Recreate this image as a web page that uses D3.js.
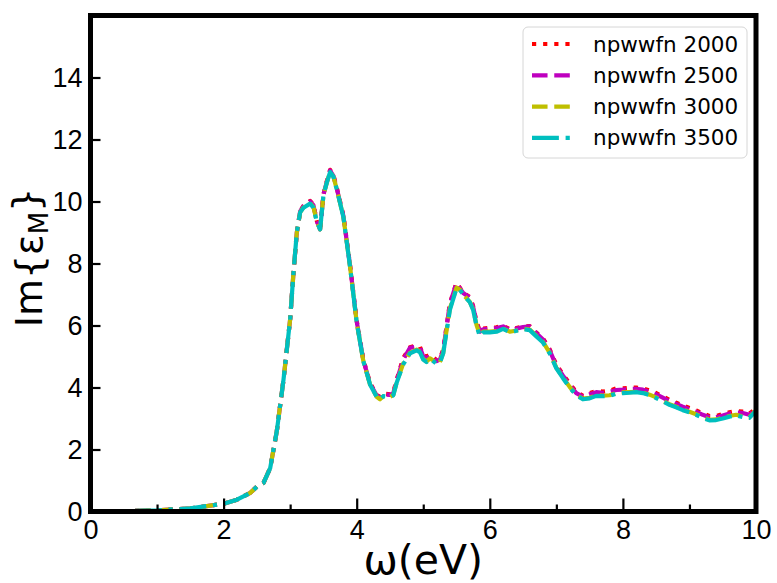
<!DOCTYPE html>
<html>
<head>
<meta charset="utf-8">
<script src="https://cdn.jsdelivr.net/npm/d3@7"></script>
<style>
  body { margin: 0; background: #fff; }
  svg { display: block; font-family: "DejaVu Sans", sans-serif; }
</style>
</head>
<body>
<svg id="chart" width="777" height="583"></svg>
<script>
// ---------------- DATA ----------------
const energy = [0, 0.5, 1.0, 1.5, 2.0, 2.2, 2.4, 2.5, 2.6, 2.7,
  2.8, 2.9, 3.0, 3.05, 3.1, 3.15, 3.2, 3.3, 3.35, 3.4,
  3.45, 3.5, 3.55, 3.6, 3.65, 3.7, 3.8, 3.9, 4.0, 4.1,
  4.2, 4.3, 4.35, 4.4, 4.5, 4.55, 4.6, 4.7, 4.8, 4.9,
  4.95, 5.0, 5.05, 5.1, 5.15, 5.2, 5.25, 5.3, 5.4, 5.5,
  5.55, 5.6, 5.7, 5.75, 5.8, 5.85, 5.9, 6.0, 6.1, 6.2,
  6.3, 6.4, 6.5, 6.6, 6.7, 6.8, 6.9, 7.0, 7.1, 7.2,
  7.3, 7.4, 7.5, 7.6, 7.7, 7.8, 7.9, 8.0, 8.1, 8.2,
  8.3, 8.4, 8.5, 8.6, 8.7, 8.8, 8.9, 9.0, 9.1, 9.2,
  9.3, 9.4, 9.5, 9.6, 9.7, 9.8, 9.9, 10.0];

const np2000 = [0.0, 0.01, 0.04, 0.10, 0.25, 0.38, 0.60, 0.80, 0.92, 1.40,
  2.60, 4.25, 6.20, 7.70, 9.00, 9.68, 9.86, 10.02, 9.90, 9.38,
  9.12, 10.22, 10.65, 11.02, 10.85, 10.45, 9.55, 7.95, 6.15, 4.90,
  4.15, 3.76, 3.70, 3.80, 3.78, 3.84, 4.25, 4.95, 5.30, 5.35,
  5.32, 5.02, 5.00, 5.06, 4.98, 4.88, 4.93, 5.22, 6.72, 7.38,
  7.22, 7.06, 6.92, 6.62, 6.12, 5.82, 5.90, 5.92, 5.94, 5.99,
  5.88, 5.92, 5.97, 5.98, 5.77, 5.58, 5.23, 4.73, 4.42, 4.12,
  3.86, 3.73, 3.82, 3.89, 3.87, 3.90, 3.97, 3.97, 3.99, 4.00,
  3.97, 3.90, 3.82, 3.71, 3.60, 3.51, 3.42, 3.34, 3.26, 3.16,
  3.08, 3.08, 3.14, 3.20, 3.24, 3.22, 3.16, 3.32];

const np2500 = [0.0, 0.01, 0.04, 0.10, 0.25, 0.38, 0.60, 0.80, 0.92, 1.40,
  2.60, 4.25, 6.20, 7.70, 9.00, 9.68, 9.85, 10.00, 9.88, 9.37,
  9.10, 10.22, 10.63, 11.00, 10.83, 10.43, 9.53, 7.93, 6.13, 4.88,
  4.13, 3.74, 3.68, 3.78, 3.76, 3.82, 4.22, 4.90, 5.28, 5.32,
  5.30, 5.00, 4.95, 5.02, 4.95, 4.85, 4.90, 5.20, 6.70, 7.37,
  7.20, 7.05, 6.90, 6.60, 6.10, 5.80, 5.88, 5.90, 5.92, 5.97,
  5.85, 5.90, 5.95, 5.97, 5.75, 5.55, 5.20, 4.70, 4.38, 4.08,
  3.82, 3.70, 3.78, 3.85, 3.83, 3.86, 3.92, 3.93, 3.95, 3.96,
  3.93, 3.86, 3.78, 3.67, 3.56, 3.47, 3.38, 3.30, 3.22, 3.12,
  3.04, 3.04, 3.10, 3.16, 3.20, 3.18, 3.12, 3.30];

const np3000 = [0.0, 0.01, 0.04, 0.10, 0.25, 0.38, 0.60, 0.80, 0.92, 1.40,
  2.60, 4.25, 6.20, 7.70, 9.00, 9.65, 9.81, 9.95, 9.82, 9.35,
  9.10, 10.20, 10.60, 10.96, 10.80, 10.40, 9.50, 7.90, 6.10, 4.85,
  4.10, 3.70, 3.62, 3.72, 3.70, 3.76, 4.16, 4.78, 5.12, 5.22,
  5.16, 4.92, 4.84, 4.94, 4.87, 4.78, 4.82, 5.12, 6.55, 7.22,
  7.16, 7.00, 6.76, 6.52, 6.02, 5.70, 5.80, 5.80, 5.82, 5.90,
  5.80, 5.84, 5.90, 5.87, 5.67, 5.47, 5.12, 4.64, 4.32, 4.02,
  3.76, 3.64, 3.67, 3.75, 3.74, 3.75, 3.82, 3.84, 3.85, 3.86,
  3.84, 3.77, 3.68, 3.57, 3.46, 3.38, 3.29, 3.22, 3.14, 3.04,
  2.96, 2.97, 3.02, 3.08, 3.12, 3.07, 3.04, 3.26];

const np3500 = [0.0, 0.01, 0.04, 0.10, 0.25, 0.38, 0.60, 0.80, 0.92, 1.40,
  2.60, 4.25, 6.20, 7.70, 9.00, 9.65, 9.80, 9.93, 9.80, 9.35,
  9.10, 10.20, 10.60, 10.95, 10.80, 10.40, 9.50, 7.90, 6.10, 4.85,
  4.10, 3.70, 3.62, 3.72, 3.70, 3.75, 4.15, 4.75, 5.10, 5.20,
  5.14, 4.90, 4.82, 4.92, 4.85, 4.76, 4.80, 5.10, 6.50, 7.20,
  7.15, 7.00, 6.75, 6.50, 6.00, 5.65, 5.78, 5.78, 5.80, 5.89,
  5.78, 5.83, 5.88, 5.85, 5.65, 5.45, 5.10, 4.62, 4.30, 4.00,
  3.75, 3.62, 3.65, 3.73, 3.72, 3.73, 3.80, 3.82, 3.83, 3.85,
  3.82, 3.75, 3.66, 3.55, 3.44, 3.36, 3.27, 3.20, 3.12, 3.02,
  2.94, 2.95, 3.00, 3.06, 3.10, 3.05, 3.02, 3.25];

const seriesNames = ["npwwfn 2000", "npwwfn 2500", "npwwfn 3000", "npwwfn 3500"];
const seriesValues = [np2000, np2500, np3000, np3500];
const xTicks = [0, 2, 4, 6, 8, 10];
const xMinorTicks = [1, 3, 5, 7, 9];
const yTicks = [0, 2, 4, 6, 8, 10, 12, 14];

// ---------------- STYLE ----------------
const colors = ["#ff0000", "#bf00bf", "#bfbf00", "#00bfbf"];
const lw = 4.2;
const dashes = [
  [lw * 1, lw * 1.65].join(","),
  [lw * 3.7, lw * 1.6].join(","),
  [lw * 3.7, lw * 1.6].join(","),
  [lw * 6.4, lw * 1.6, lw * 1, lw * 1.6].join(",")
];

const svg = d3.select("#chart");
const pL = 90.5, pR = 756, pT = 15.5, pB = 511.5;

const x = d3.scaleLinear().domain([0, 10]).range([pL, pR]);
const y = d3.scaleLinear().domain([0, 16]).range([pB, pT]);

svg.append("defs").append("clipPath").attr("id", "clip")
  .append("rect").attr("x", pL).attr("y", pT)
  .attr("width", pR - pL).attr("height", pB - pT);

// curves
const line = d3.line().x((d, i) => x(energy[i])).y(d => y(d));
const gLines = svg.append("g").attr("clip-path", "url(#clip)");
seriesValues.forEach((vals, k) => {
  gLines.append("path")
    .datum(vals)
    .attr("d", line)
    .attr("fill", "none")
    .attr("stroke", colors[k])
    .attr("stroke-width", lw)
    .attr("stroke-dasharray", dashes[k])
    .attr("stroke-linejoin", "round")
    .attr("stroke-linecap", "butt");
});

// axes
const fs = 27;
const xAxis = d3.axisBottom(x).tickValues(xTicks).tickSize(-13).tickPadding(8)
  .tickFormat(d3.format("d"));
const gx = svg.append("g").attr("transform", `translate(0,${pB})`).call(xAxis);
const xMinor = d3.axisBottom(x).tickValues(xMinorTicks).tickSize(-7).tickFormat("");
const gxm = svg.append("g").attr("transform", `translate(0,${pB})`).call(xMinor);

const yAxis = d3.axisLeft(y).tickValues(yTicks).tickSize(-10).tickPadding(8)
  .tickFormat(d3.format("d"));
const gy = svg.append("g").attr("transform", `translate(${pL},0)`).call(yAxis);

[gx, gxm, gy].forEach(g => {
  g.select(".domain").remove();
  g.selectAll(".tick line").attr("stroke", "#000").attr("stroke-width", 2.2);
  g.selectAll(".tick text").attr("fill", "#000").style("font-size", fs + "px");
});

// frame
svg.append("rect")
  .attr("x", pL).attr("y", pT)
  .attr("width", pR - pL).attr("height", pB - pT)
  .attr("fill", "none").attr("stroke", "#000").attr("stroke-width", 5);

// axis labels
svg.append("text")
  .attr("x", (pL + pR) / 2).attr("y", 574)
  .attr("text-anchor", "middle")
  .style("font-size", "41px")
  .text("ω(eV)");

const yl = svg.append("text")
  .attr("transform", `translate(42,${(pT + pB) / 2 - 6}) rotate(-90)`)
  .attr("text-anchor", "middle")
  .style("font-size", "38px");
yl.append("tspan").text("Im{ε");
yl.append("tspan").attr("dy", "0.22em").style("font-size", "26px").text("M");
yl.append("tspan").attr("dy", "-0.22em").text("}");

// legend
const lg = svg.append("g");
lg.append("rect")
  .attr("x", 523).attr("y", 27).attr("width", 224).attr("height", 131)
  .attr("rx", 5).attr("fill", "#fff").attr("fill-opacity", 0.8)
  .attr("stroke", "#d6d6d6").attr("stroke-width", 1);
seriesNames.forEach((name, k) => {
  const cy = 44 + k * 31.3;
  lg.append("line")
    .attr("x1", 532).attr("x2", 576).attr("y1", cy).attr("y2", cy)
    .attr("stroke", colors[k]).attr("stroke-width", lw)
    .attr("stroke-dasharray", dashes[k]);
  lg.append("text")
    .attr("x", 593).attr("y", cy)
    .attr("dominant-baseline", "central")
    .style("font-size", "21.5px")
    .text(name);
});
</script>
</body>
</html>
